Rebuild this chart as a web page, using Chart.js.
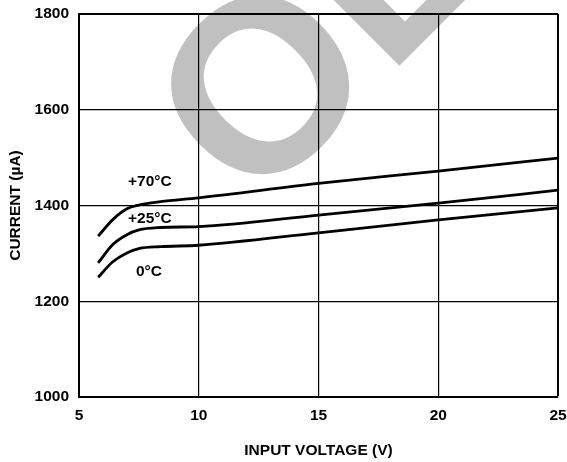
<!DOCTYPE html>
<html>
<head>
<meta charset="utf-8">
<script src="https://cdn.jsdelivr.net/npm/chart.js@4/dist/chart.umd.min.js"></script>
<style>
    html, body { margin: 0; padding: 0; background: #fff; }
    #chart-container { width: 567px; height: 462px; }
</style>
</head>
<body>
<div id="chart-container"><canvas></canvas></div>
<script>
const voltages = [5.8, 6.4, 7.0, 7.5, 8.4, 10, 15, 20, 25];
const current70 = [1336, 1370, 1393, 1401, 1408, 1416, 1446, 1472, 1499];
const current25 = [1280, 1318, 1339, 1349, 1354, 1356, 1380, 1405, 1432];
const current0 = [1250, 1282, 1301, 1310, 1314, 1317, 1343, 1370, 1395];

const seriesLabels = ['+70°C', '+25°C', '0°C'];
// where each curve label sits, in data units
const labelSpots = [[7.96, 1449], [7.96, 1372], [7.92, 1261]];

const watermarkText = 'OL';
const fontFamily = '"Liberation Sans", Arial, sans-serif';
const fontSize = 15.5;

let chart = undefined;

window.onload = function() {
    createChart();
}

function toPoints(values) {
    return values.map((value, i) => {
        return { x: voltages[i], y: value };
    });
}

// big grey stamp behind the grid
const watermarkPlugin = {
    id: 'watermark',
    beforeDraw(chart) {
        const ctx = chart.ctx;
        ctx.save();
        ctx.translate(253, 212);
        ctx.rotate(-Math.PI / 4);
        ctx.fillStyle = '#c0c0c0';
        ctx.font = `bold 245px ${fontFamily}`;
        ctx.textBaseline = 'alphabetic';
        ctx.textAlign = 'left';
        ctx.fillText(watermarkText, 0, 0);
        ctx.restore();
    },
};

const curveLabelPlugin = {
    id: 'curveLabels',
    afterDatasetsDraw(chart) {
        const ctx = chart.ctx;
        const xScale = chart.scales.x;
        const yScale = chart.scales.y;
        ctx.save();
        ctx.fillStyle = '#000';
        ctx.font = `bold ${fontSize}px ${fontFamily}`;
        ctx.textAlign = 'center';
        ctx.textBaseline = 'middle';
        seriesLabels.forEach((label, i) => {
            const spot = labelSpots[i];
            ctx.fillText(label, xScale.getPixelForValue(spot[0]), yScale.getPixelForValue(spot[1]));
        });
        ctx.restore();
    },
};

function createChart() {
    const chartCanvas = document.querySelector('#chart-container > canvas');
    const curves = [current70, current25, current0];
    const tickFont = { family: fontFamily, size: fontSize, weight: 'bold' };

    chart = new Chart(chartCanvas, {
        type: 'line',
        data: {
            datasets: curves.map((values, i) => {
                return {
                    label: seriesLabels[i],
                    data: toPoints(values),
                    borderColor: '#000',
                    borderWidth: 2.8,
                    pointRadius: 0,
                    cubicInterpolationMode: 'monotone',
                };
            }),
        },
        options: {
            responsive: true,
            maintainAspectRatio: false,
            animation: false,
            devicePixelRatio: 1,
            layout: {
                padding: { top: 14, right: 9, left: 0, bottom: 0 },
            },
            plugins: {
                legend: { display: false },
                tooltip: { enabled: false },
            },
            scales: {
                x: {
                    type: 'linear',
                    min: 5,
                    max: 25,
                    afterFit: scale => {
                        scale.height = 65;
                        // labels may overhang, the plot keeps its size
                        scale.paddingLeft = 0;
                        scale.paddingRight = 0;
                    },
                    ticks: {
                        stepSize: 5,
                        padding: 9,
                        color: '#000',
                        font: tickFont,
                        callback: value => String(value),
                    },
                    grid: {
                        color: '#000',
                        lineWidth: ctx => (ctx.tick && ctx.tick.value === 25 ? 2 : 1.2),
                        drawTicks: false,
                    },
                    border: { color: '#000', width: 2 },
                    title: {
                        display: true,
                        text: 'INPUT VOLTAGE (V)',
                        color: '#000',
                        padding: { top: 0, bottom: 2 },
                        font: tickFont,
                    },
                },
                y: {
                    min: 1000,
                    max: 1800,
                    afterFit: scale => {
                        scale.width = 79;
                        scale.paddingTop = 0;
                        scale.paddingBottom = 0;
                    },
                    ticks: {
                        stepSize: 200,
                        padding: 10,
                        color: '#000',
                        font: tickFont,
                        callback: value => String(value),
                    },
                    grid: {
                        color: '#000',
                        lineWidth: ctx => (ctx.tick && ctx.tick.value === 1800 ? 2 : 1.2),
                        drawTicks: false,
                    },
                    border: { color: '#000', width: 2 },
                    title: {
                        display: true,
                        text: 'CURRENT (µA)',
                        color: '#000',
                        padding: { top: 6, bottom: 0 },
                        font: tickFont,
                    },
                },
            },
        },
        plugins: [watermarkPlugin, curveLabelPlugin],
    });
}
</script>
</body>
</html>
